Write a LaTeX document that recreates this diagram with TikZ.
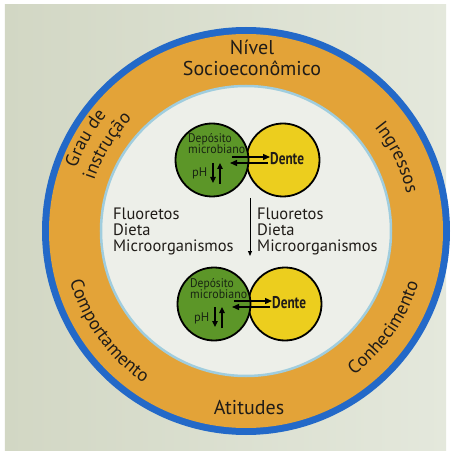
\documentclass[tikz,border=0pt]{standalone}
\usepackage{fontspec}
\setmainfont{PT Sans}
\usetikzlibrary{arrows.meta,decorations.text}

\definecolor{paper}{RGB}{210,215,196}
\definecolor{paperlight}{RGB}{228,232,220}
\definecolor{ringblue}{RGB}{35,105,200}
\definecolor{ringorange}{RGB}{227,163,56}
\definecolor{innerfill}{RGB}{237,239,233}
\definecolor{innerrim}{RGB}{160,205,222}
\definecolor{plaque}{RGB}{92,150,40}
\definecolor{tooth}{RGB}{236,206,30}
\definecolor{ink}{RGB}{32,28,24}
\definecolor{plaqueink}{RGB}{24,36,18}

\tikzset{
  disc/.style={circle, draw=black, line width=1.8pt, minimum size=73pt, inner sep=0pt},
  smalltxt/.style={inner sep=0pt, text=plaqueink, font=\fontsize{12.5}{12.5}\selectfont},
  toothtxt/.style={inner sep=0pt, text=ink, font=\bfseries\fontsize{17}{17}\selectfont},
  listtxt/.style={inner sep=0pt, text=ink, font=\fontsize{16.5}{16.5}\selectfont},
  ringtxt/.style={inner sep=0pt, text=ink, font=\fontsize{20}{22}\selectfont},
  bigflow/.style={line width=1.4pt, -{Triangle[length=7pt,width=6pt]}},
  phflow/.style={line width=1.3pt, -{Triangle[length=6pt,width=5.5pt]}},
  mainflow/.style={line width=0.9pt, -{Triangle[length=5pt,width=4pt]}},
  pics/cariespair/.style={code={
    \node[disc, fill=tooth] (-tooth) at (71,0) {};
    \node[disc, fill=plaque] (-plaque) at (0,0) {};
    \node[smalltxt, anchor=base west] (-dep) at (-24,17) {\scalebox{0.92}[1]{Depósito}};
    \node[smalltxt, anchor=base west] (-mic) at (-24,6) {\scalebox{0.95}[1]{microbiano}};
    \node[smalltxt, anchor=base west] (-ph) at (-20,-17) {pH};
    \node[toothtxt, anchor=west] (-dente) at (58,1) {\scalebox{0.78}[1]{Dente}};
    % exchange between plaque and tooth
    \coordinate (-outA) at (20,3);
    \coordinate (-inA) at (58,3);
    \coordinate (-outB) at (56,-3);
    \coordinate (-inB) at (18,-3);
    \draw[bigflow] (-outA) -- (-inA);
    \draw[bigflow] (-outB) -- (-inB);
    % pH falls and rises
    \coordinate (-downS) at (1,-3);
    \coordinate (-downE) at (1,-23);
    \coordinate (-upS) at (8,-24);
    \coordinate (-upE) at (8,-3);
    \draw[phflow] (-downS) -- (-downE);
    \draw[phflow] (-upS) -- (-upE);
  }}
}

\begin{document}
\begin{tikzpicture}[x=1pt,y=1pt]
\useasboundingbox (-246,-224) rectangle (205,231);

% paper
\fill[white] (-246,-224) rectangle (205,231);
\shade[left color=paper, right color=paperlight] (-241,-219) rectangle (200,226);

% rings
\fill[ringblue] (0,0) circle[radius=204pt];
\fill[ringorange] (0,0) circle[radius=197pt];
\draw[innerrim, line width=2.5pt, fill=innerfill] (0,0) circle[radius=145pt];

% straight labels of the ring
\node[ringtxt, anchor=base] (nivel) at (6,176) {Nível};
\node[ringtxt, anchor=base] (socio) at (6,155) {Socioeconômico};
\node[ringtxt, anchor=base] (atitudes) at (3,-183) {Atitudes};

% curved labels of the ring
{\fontsize{18.5}{20}\selectfont
\path[decorate, decoration={text along path, text={Grau de}, text align=center, text color=ink}]
  (185:181pt) arc[start angle=185, end angle=115, radius=181pt];
\path[decorate, decoration={text along path, text={instrução}, text align=center, text color=ink}]
  (183:160pt) arc[start angle=183, end angle=114, radius=160pt];
\path[decorate, decoration={text along path, text={Ingressos}, text align=center, text color=ink}]
  (61:165pt) arc[start angle=61, end angle=-9, radius=165pt];
\path[decorate, decoration={text along path, text={Comportamento}, text align=center, text color=ink}]
  (176:183pt) arc[start angle=176, end angle=256, radius=183pt];
\path[decorate, decoration={text along path, text={Conhecimento}, text align=center, text color=ink}]
  (285:180pt) arc[start angle=285, end angle=365, radius=180pt];
}

% plaque / tooth pairs
\pic (upper) at (-34,71) {cariespair};
\pic (lower) at (-32,-73) {cariespair};

% factors
\node[listtxt, anchor=base west] (fluorL) at (-133,11) {Fluoretos};
\node[listtxt, anchor=base west] (dietaL) at (-133,-5) {Dieta};
\node[listtxt, anchor=base west] (microL) at (-133,-20) {Microorganismos};
\node[listtxt, anchor=base west] (fluorR) at (11,11) {Fluoretos};
\node[listtxt, anchor=base west] (dietaR) at (11,-5) {Dieta};
\node[listtxt, anchor=base west] (microR) at (11,-20) {Microorganismos};

% time arrow
\coordinate (flowtop) at (4,33);
\coordinate (flowend) at (4,-25);
\draw[mainflow] (flowtop) -- (flowend);
\end{tikzpicture}
\end{document}
